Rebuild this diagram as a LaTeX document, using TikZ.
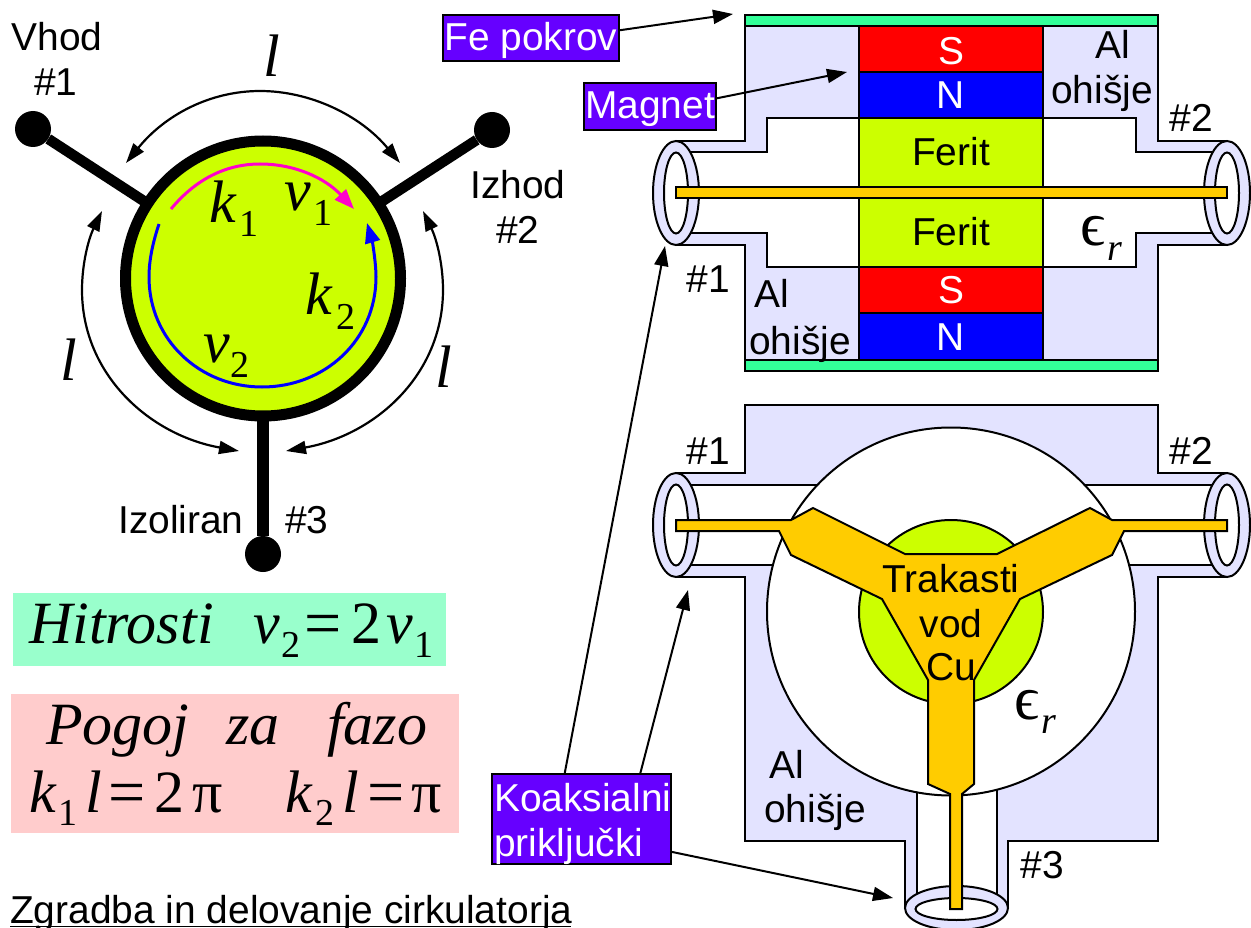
\documentclass[tikz,border=0pt]{standalone}
\usepackage{fontspec}
\setmainfont{Liberation Sans}
\newfontfamily\tms{Liberation Serif}
\usetikzlibrary{arrows.meta}
\definecolor{alum}{HTML}{E3E3FF}
\definecolor{plate}{HTML}{33FF99}
\definecolor{ferit}{HTML}{CCFF00}
\definecolor{trace}{HTML}{FFCC00}
\definecolor{tagviolet}{HTML}{6600FF}
\definecolor{mintbox}{HTML}{99FFCC}
\definecolor{pinkbox}{HTML}{FFCCCC}
\definecolor{arcpink}{HTML}{FF00CC}
\newcommand\SF{\fontsize{38.9}{45}\selectfont}
\tikzset{
  outline/.style={draw=black,line width=2pt,line join=miter},
  lab/.style={anchor=base,inner sep=0pt,font=\SF},
  labw/.style={lab,text=white},
  mi/.style={anchor=base west,inner sep=0pt,font=\fontsize{60}{60}\selectfont\tms\itshape},
  mr/.style={anchor=base west,inner sep=0pt,font=\fontsize{60}{60}\selectfont\tms},
  meq/.style={anchor=base west,inner sep=0pt,font=\fontsize{66}{66}\selectfont\tms},
  sb/.style={anchor=base west,inner sep=0pt,font=\fontsize{38}{40}\selectfont\tms},
  subi/.style={anchor=base west,inner sep=0pt,font=\fontsize{38}{40}\selectfont\tms\itshape},
  eps/.style={anchor=base west,inner sep=0pt,font=\fontsize{62}{62}\selectfont\tms},
  tagbox/.style={draw=black,line width=2pt,fill=tagviolet,inner sep=0pt},
  leader/.style={line width=2pt,-{Triangle[length=20pt,width=14pt]}},
  arcarrow/.style={line width=2.2pt,{Triangle[length=20pt,width=13pt]}-{Triangle[length=20pt,width=13pt]}},
  pad/.style={circle,fill=black,inner sep=0pt,minimum size=36pt},
  stub/.style={line width=10.5pt},
  wave/.style={line width=3pt,-{Triangle[length=20pt,width=15pt]}},
  ring/.style={outline,fill=alum},
  bore/.style={outline,fill=white},
  strip/.style={outline,fill=trace},
}
\begin{document}
\begin{tikzpicture}[x=1pt,y=-1pt]
\useasboundingbox (0,0) rectangle (1251,928);
\fill[white] (0,0) rectangle (1251,928);

% ---------- left: schematic
\node[pad] (pa) at (33,129) {};
\node[pad] (pb) at (492,130) {};
\node[pad] (pc) at (263,554) {};
\node[circle,draw=black,line width=11pt,fill=ferit,inner sep=0pt,minimum size=275pt,outer sep=0pt] (disc) at (263,278.5) {};
\draw[stub] (pa) -- (disc);
\draw[stub] (pb) -- (disc);
\draw[line width=11.5pt] (pc) -- (disc);

\draw[arcarrow] (126,163) .. controls (165,115) and (210,91) .. (260,91) .. controls (310,91) and (360,115) .. (400,163);
\draw[arcarrow] (102,211) .. controls (88,240) and (82,265) .. (82,290) .. controls (82,375) and (150,435) .. (239,451);
\draw[arcarrow] (423,211) .. controls (437,240) and (443,265) .. (443,290) .. controls (443,375) and (375,435) .. (286,451);

\draw[wave,arcpink] (171,209) .. controls (195,180) and (225,164) .. (260,164) .. controls (295,164) and (325,178) .. (354,209);
\draw[wave,blue] (159,224) .. controls (152,245) and (149,262) .. (149,277) .. controls (149,340) and (200,387) .. (262,387) .. controls (325,387) and (376,340) .. (376,277) .. controls (376,262) and (372,240) .. (367,223);

\node[mi] (k1) at (209,223) {k};
\node[sb] (k1s) at (239,237) {1};
\node[mi] (v1) at (284,211) {v};
\node[sb] (v1s) at (313,226) {1};
\node[mi] (k2) at (305,314) {k};
\node[sb] (k2s) at (336,329) {2};
\node[mi] (v2) at (203,362) {v};
\node[sb] (v2s) at (230,377) {2};
\node[mi] (la) at (263,77) {l};
\node[mi] (lb) at (60,380) {l};
\node[mi] (lc) at (435,387) {l};

\node[lab] (t1) at (57,51) {Vhod};
\node[lab] (t2) at (56,96) {\#1};
\node[lab] (t3) at (518,199) {Izhod};
\node[lab] (t4) at (518,244) {\#2};
\node[lab,anchor=base west] (t5) at (118,533) {Izoliran};
\node[lab,anchor=base west] (t6) at (285,533) {\#3};

% ---------- left: formula boxes
\fill[mintbox] (13,593) rectangle (446,666);
\fill[pinkbox] (11,694) rectangle (459,833);
\node[mi] (f1) at (29,643) {Hitrosti};
\node[mi] (f2) at (253,643) {v};
\node[sb] (f3) at (281,657) {2};
\node[meq] (f4) at (304,645) {=};
\node[mr] (f5) at (351,643) {2};
\node[mi] (f6) at (386,643) {v};
\node[sb] (f7) at (414,657) {1};
\node[mi] (g1) at (46,744) {Pogoj};
\node[mi] (g2) at (226,744) {za};
\node[mi] (g3) at (327,744) {fazo};
\node[mi] (h1) at (29,812) {k};
\node[sb] (h2) at (58,825) {1};
\node[mi] (h3) at (85,812) {l};
\node[meq] (h4) at (108,814) {=};
\node[mr] (h5) at (154,812) {2};
\node[mr] (h6) at (192,812) {π};
\node[mi] (h7) at (285,812) {k};
\node[sb] (h8) at (315,825) {2};
\node[mi] (h9) at (342,812) {l};
\node[meq] (h10) at (367,814) {=};
\node[mr] (h11) at (411,812) {π};
\node[lab,anchor=base west] (title) at (10,923) {Zgradba in delovanje cirkulatorja};
\draw[line width=1.5pt] (10,926.5) -- (571,926.5);

% ---------- upper device
\draw[outline,fill=alum] (745,26) -- (745,141) -- (676,141) -- (676,245) -- (745,245) -- (745,360) -- (1158,360) -- (1158,245) -- (1227,245) -- (1227,141) -- (1158,141) -- (1158,26) -- cycle;
\draw[bore] (676,152) -- (767,152) -- (767,118) -- (1136,118) -- (1136,152) -- (1227,152) -- (1227,233) -- (1136,233) -- (1136,267) -- (767,267) -- (767,233) -- (676,233) -- cycle;
\foreach \cx in {676,1227} {
  \draw[ring] (\cx,193) ellipse [x radius=23,y radius=52];
  \draw[bore] (\cx,193) ellipse [x radius=12,y radius=40.5];
}
\draw[outline,fill=red] (859,26) rectangle (1043,72);
\draw[outline,fill=blue] (859,72) rectangle (1043,118);
\draw[outline,fill=ferit] (859,118) rectangle (1043,267);
\draw[outline,fill=red] (859,267) rectangle (1043,313);
\draw[outline,fill=blue] (859,313) rectangle (1043,360);
\draw[outline,fill=plate] (745,15) rectangle (1158,26);
\draw[outline,fill=plate] (745,360) rectangle (1158,371);
\draw[strip] (676,187) rectangle (1227,198);

\node[labw] (a1) at (951,65) {S};
\node[labw] (a2) at (951,109) {N};
\node[lab] (a3) at (951,166) {Ferit};
\node[lab] (a4) at (951,246) {Ferit};
\node[labw] (a5) at (951,303) {S};
\node[labw] (a6) at (951,350) {N};
\node[lab] (a7) at (1113,59) {Al};
\node[lab] (a8) at (1102,104) {ohišje};
\node[lab] (a9) at (1191,132) {\#2};
\node[lab] (a10) at (708,293) {\#1};
\node[lab] (a11) at (772,308) {Al};
\node[lab] (a12) at (800,354) {ohišje};
\node[eps] (a13) at (1080,246) {ϵ};
\node[subi] (a14) at (1107,261) {r};

% ---------- lower device
\draw[outline,fill=alum] (745,405) -- (1158,405) -- (1158,473) -- (1227,473) -- (1227,577) -- (1158,577) -- (1158,841) -- (1008,841) -- (1008,908) -- (905,908) -- (905,841) -- (745,841) -- (745,577) -- (676,577) -- (676,473) -- (745,473) -- cycle;
\fill[white] (676,485) rectangle (830,565);
\fill[white] (1227,485) rectangle (1073,565);
\fill[white] (917,780) rectangle (997,908);
\draw[outline] (676,485) -- (818,485) (676,565) -- (773,565);
\draw[outline] (1227,485) -- (1085,485) (1227,565) -- (1130,565);
\draw[outline] (917,780) -- (917,908) (997,780) -- (997,908);
\draw[bore] (951,611.5) circle [radius=184];
\draw[outline,fill=ferit] (951,612) circle [radius=92];
\foreach \cx in {676,1227} {
  \draw[ring] (\cx,525) ellipse [x radius=23,y radius=52];
  \draw[bore] (\cx,525) ellipse [x radius=12,y radius=40.5];
}
\draw[ring] (956.5,908) ellipse [x radius=51.5,y radius=22];
\draw[bore] (956.5,909) ellipse [x radius=41,y radius=11];
\draw[strip] (676,520) -- (791,520) -- (813,508) -- (905,554) -- (997,554) -- (1090,508) -- (1112,520) -- (1227,520) -- (1227,531) -- (1124,531) -- (1112,555) -- (1020,599) -- (974,680) -- (974,784) -- (962,794) -- (962,909) -- (950,909) -- (950,794) -- (928,784) -- (928,680) -- (882,599) -- (791,555) -- (779,531) -- (676,531) -- cycle;

\node[lab] (b1) at (708,464) {\#1};
\node[lab] (b2) at (1191,464) {\#2};
\node[lab] (b3) at (951,592) {Trakasti};
\node[lab] (b4) at (951,637) {vod};
\node[lab] (b5) at (951,680) {Cu};
\node[eps] (b6) at (1014,719) {ϵ};
\node[subi] (b7) at (1041,733) {r};
\node[lab] (b8) at (787,778) {Al};
\node[lab] (b9) at (815,822) {ohišje};
\node[lab] (b10) at (1042,878) {\#3};

% ---------- tags and leaders
\node[tagbox,minimum width=176pt,minimum height=46pt] (fe) at (531,38) {};
\node[labw] (fet) at (531,51) {Fe pokrov};
\node[tagbox,minimum width=132pt,minimum height=47pt] (mag) at (650,106.5) {};
\node[labw] (magt) at (650,119) {Magnet};
\node[tagbox,minimum width=179pt,minimum height=90pt] (koax) at (581.5,819) {};
\node[labw,anchor=base west] (koaxa) at (494,811) {Koaksialni};
\node[labw,anchor=base west] (koaxb) at (494,856) {priključki};
\coordinate (tipfe) at (733,14);
\coordinate (tipmag) at (847,72);
\coordinate (tipa) at (665,246);
\coordinate (tipb) at (688,590);
\coordinate (tipc) at (893,898);
\draw[leader] (fe.5.8) -- (tipfe);
\draw[leader] (mag.7.3) -- (tipmag);
\draw[leader] (koax.110.1) -- (tipa);
\draw[leader] (koax.38.5) -- (tipb);
\draw[leader] (koax.-20.2) -- (tipc);
\end{tikzpicture}
\end{document}
